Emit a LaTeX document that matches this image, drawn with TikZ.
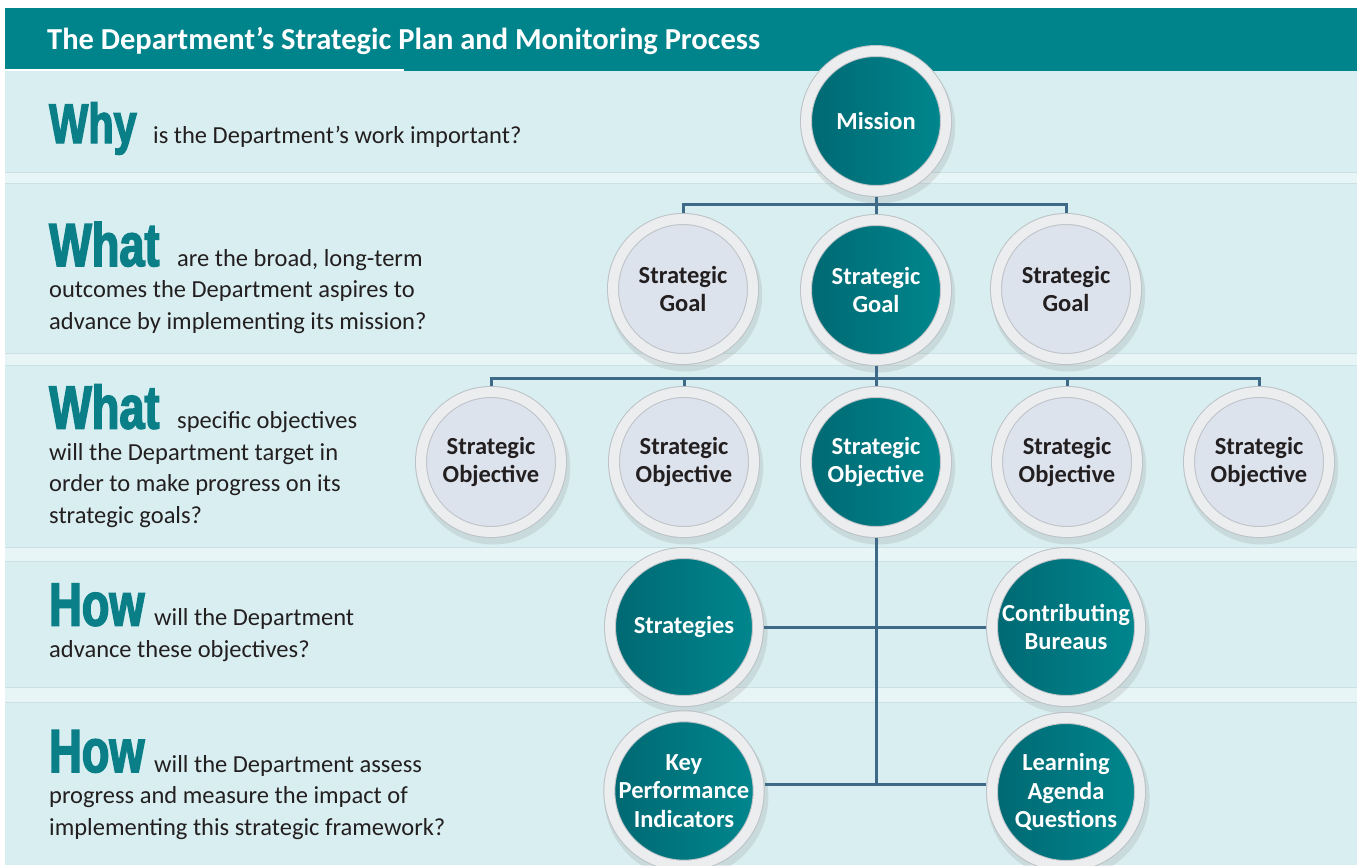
\documentclass[tikz,border=0pt]{standalone}
\usepackage{fontspec}
\setmainfont{Carlito}
\newfontfamily\bigwordfont{Liberation Sans}[FakeStretch=0.74,FakeBold=2.5]
\usetikzlibrary{shadows, positioning}

\definecolor{headteal}{HTML}{00848B}
\definecolor{bgteal}{HTML}{D9EEF0}
\definecolor{stripteal}{HTML}{E8F5F6}
\definecolor{stripedge}{HTML}{CBE1E4}
\definecolor{discdark}{HTML}{006872}
\definecolor{disclight}{HTML}{00878E}
\definecolor{discgrey}{HTML}{DDE3EC}
\definecolor{ringwhite}{HTML}{ECEDEF}
\definecolor{ringedge}{HTML}{BCC2C7}
\definecolor{linkblue}{HTML}{3E6A88}
\definecolor{inktext}{HTML}{231F20}
\definecolor{bigteal}{HTML}{0B7F88}

\newcommand{\bigq}[2][61]{{\color{bigteal}\bigwordfont\bfseries\fontsize{#1}{#1}\selectfont #2}}

\tikzset{
  ringnode/.style={circle, inner sep=0pt, outer sep=6pt, minimum size=140pt, align=center,
    font=\bfseries\fontsize{24.5}{28.5}\selectfont, draw=ringedge, line width=1pt,
    double=ringwhite, double distance=10pt,
    drop shadow={shadow scale=1.1, shadow xshift=2pt, shadow yshift=-5pt, opacity=0.18}},
  tealnode/.style={ringnode, left color=discdark, right color=disclight, text=white},
  greynode/.style={ringnode, fill=discgrey, text=inktext},
  bignode/.style={minimum size=148pt},
  link/.style={draw=linkblue, line width=3pt},
  question/.style={anchor=base west, inner sep=0pt, align=left, text=inktext,
    font=\fontsize{24.5}{31.5}\selectfont},
}

\begin{document}
\begin{tikzpicture}[x=1pt, y=-1pt]
  \useasboundingbox (0,0) rectangle (1357,865);
  % background and bands
  \fill[white] (0,0) rectangle (1357,865);
  \fill[bgteal] (5,69) rectangle (1357,865);
  \foreach \top/\bot in {172/183, 353/365, 547/561, 687/702} {
    \fill[stripteal] (5,\top) rectangle (1357,\bot);
    \draw[stripedge, line width=0.8pt] (5,\top) -- (1357,\top) (5,\bot) -- (1357,\bot);
  }
  \fill[headteal] (5,8) rectangle (1357,71);
  \fill[white] (5,69) rectangle (404,71);
  \node[anchor=base west, inner sep=0pt, text=white, font=\bfseries\fontsize{30.5}{32}\selectfont]
    (title) at (47,49) {The Department’s Strategic Plan and Monitoring Process};

  % questions (anchored at the baseline of the last line)
  \node[question] (why) at (49,143)
    {\makebox[104pt][l]{\bigq[56]{Why}}is the Department’s work important?};
  \node[question] (what) at (49,329)
    {\makebox[128pt][l]{\bigq{What}}are the broad, long-term\\outcomes the Department aspires to\\advance by implementing its mission?};
  \node[question] (whatobj) at (49,523)
    {\makebox[128pt][l]{\bigq{What}}specific objectives\\will the Department target in\\order to make progress on its\\strategic goals?};
  \node[question] (how) at (49,657)
    {\makebox[105pt][l]{\bigq{How}}will the Department\\advance these objectives?};
  \node[question] (howassess) at (49,835)
    {\makebox[105pt][l]{\bigq{How}}will the Department assess\\progress and measure the impact of\\implementing this strategic framework?};

  % circles
  \node[tealnode] (mission) at (876,121) {Mission};
  \node[greynode] (goalL) at (683,289) {Strategic\\Goal};
  \node[tealnode] (goalM) at (876,290) {Strategic\\Goal};
  \node[greynode] (goalR) at (1066,289) {Strategic\\Goal};
  \node[greynode] (objA) at (491,462) {Strategic\\Objective};
  \node[greynode] (objB) at (684,462) {Strategic\\Objective};
  \node[tealnode] (objM) at (876,462) {Strategic\\Objective};
  \node[greynode] (objD) at (1067,462) {Strategic\\Objective};
  \node[greynode] (objE) at (1259,462) {Strategic\\Objective};
  \node[tealnode, bignode] (strat) at (684,627) {Strategies};
  \node[tealnode, bignode] (contrib) at (1066,627) {Contributing\\Bureaus};
  \node[tealnode, bignode] (kpi) at (684,791) {Key\\Performance\\Indicators};
  \node[tealnode, bignode] (learn) at (1066,792) {Learning\\Agenda\\Questions};

  % connectors
  \coordinate (goalbus) at (876,204);
  \coordinate (objbus) at (876,378);
  \coordinate (lowbus) at (876,784);
  \draw[link] (mission) -- (goalM);
  \draw[link] (goalL.north) |- (goalbus) -| (goalR.north);
  \draw[link] (goalM) -- (objM);
  \draw[link] (objA.north) |- (objbus) -| (objE.north);
  \draw[link] (objB.north) |- (objbus);
  \draw[link] (objD.north) |- (objbus);
  \draw[link] (objM) -- (lowbus);
  \draw[link] (strat) -- (contrib);
  \draw[link] (kpi.east |- lowbus) -- (learn.west |- lowbus);
\end{tikzpicture}
\end{document}
